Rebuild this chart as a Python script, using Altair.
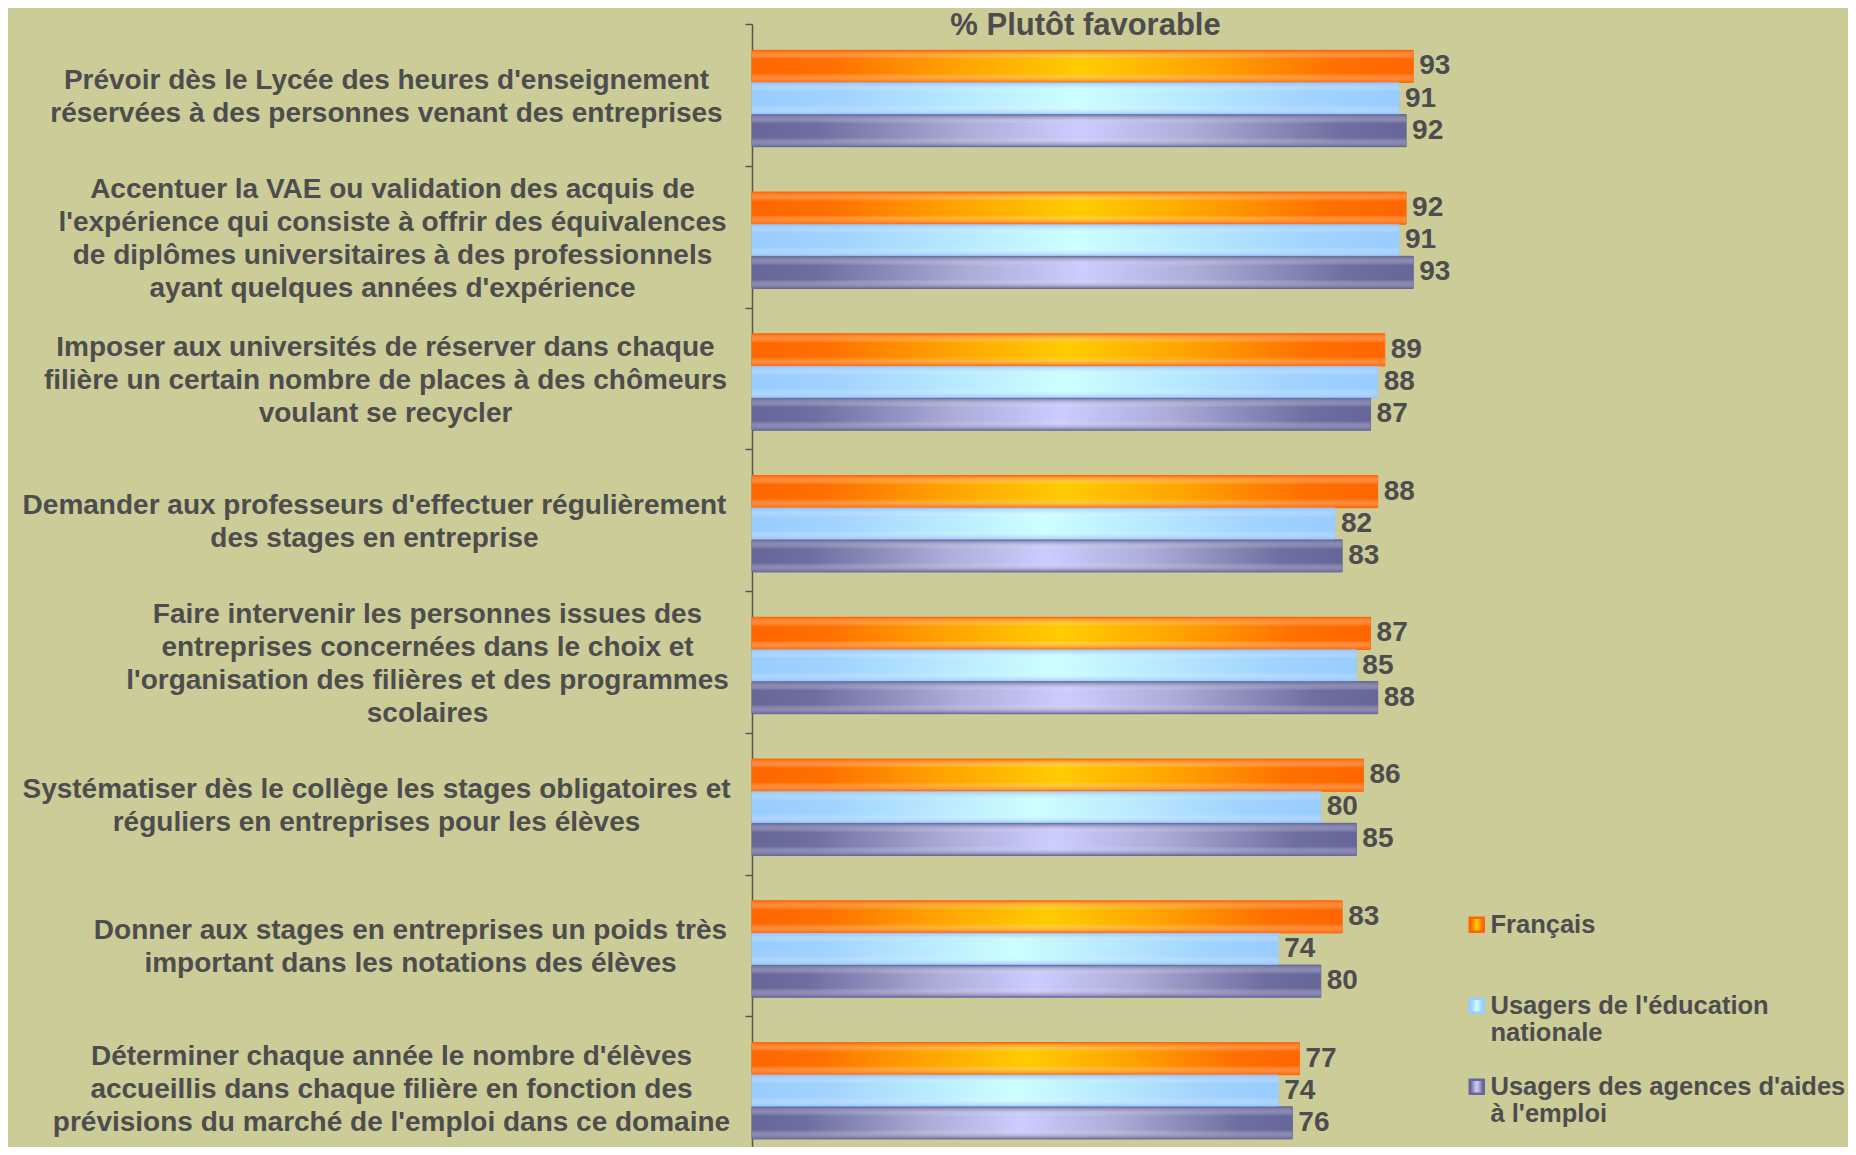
import altair as alt
import pandas as pd

categories = [
    "Prévoir dès le Lycée des heures d'enseignement|réservées à des personnes venant des entreprises",
    "Accentuer la VAE ou validation des acquis de|l'expérience qui consiste à offrir des équivalences|de diplômes universitaires à des professionnels|ayant quelques années d'expérience",
    "Imposer aux universités de réserver dans chaque|filière un certain nombre de places à des chômeurs|voulant se recycler",
    "Demander aux professeurs d'effectuer régulièrement|des stages en entreprise",
    "Faire intervenir les personnes issues des|entreprises concernées dans le choix et|l'organisation des filières et des programmes|scolaires",
    "Systématiser dès le collège les stages obligatoires et|réguliers en entreprises pour les élèves",
    "Donner aux stages en entreprises un poids très|important dans les notations des élèves",
    "Déterminer chaque année le nombre d'élèves|accueillis dans chaque filière en fonction des|prévisions du marché de l'emploi dans ce domaine",
]
series = ["Français", "Usagers de l'éducation|nationale", "Usagers des agences d'aides|à l'emploi"]
francais = [93, 92, 89, 88, 87, 86, 83, 77]
education = [91, 91, 88, 82, 85, 80, 74, 74]
agences = [92, 93, 87, 83, 88, 85, 80, 76]

rows = []
for i, c in enumerate(categories):
    for s, vals in zip(series, [francais, education, agences]):
        rows.append({"cat": c, "series": s, "value": vals[i]})
df = pd.DataFrame(rows)

FONT = "Liberation Sans, Arial, sans-serif"
TXT = "#4d4d4d"
edge = ["#ff6600", "#99ccff", "#666699"]
LH = 33

# distance from the axis to the centre of each (right-aligned, centred) label block
label_pad = [359, 353, 360, 371, 318, 369, 335, 354]

h_stops = [
    [(0, "#ff6600"), (0.12, "#ff7000"), (0.3, "#ffa000"), (0.5, "#ffcc00"), (0.7, "#ffa000"), (0.88, "#ff7000"), (1, "#ff6600")],
    [(0, "#99ccff"), (0.15, "#a3d4ff"), (0.5, "#ccffff"), (0.85, "#a3d4ff"), (1, "#99ccff")],
    [(0, "#666699"), (0.1, "#6e6ea0"), (0.33, "#adadd9"), (0.5, "#ccccff"), (0.67, "#adadd9"), (0.9, "#6e6ea0"), (1, "#666699")],
]
v_edge = ["rgba(255,102,0,0.9)", "rgba(140,190,250,0.8)", "rgba(102,102,153,0.9)"]


def grad_expr(stops):
    s = ", ".join("{offset: %s, color: '%s'}" % (o, c) for o, c in stops)
    return "{gradient: 'linear', x1: 0, y1: 0, x2: 1, y2: 0, stops: [%s]}" % s


def esc(s):
    return s.replace("\\", "\\\\").replace("'", "\\'")


label_offset = {
    "condition": [
        {"test": "length(split(datum.value, '|')) == 4", "value": -1.5 * LH + 2},
        {"test": "length(split(datum.value, '|')) == 3", "value": -1.0 * LH + 2},
        {"test": "length(split(datum.value, '|')) == 2", "value": -0.5 * LH + 2},
    ],
    "value": 2,
}
label_padding = {
    "condition": [
        {"test": "datum.value == '%s'" % esc(c), "value": p}
        for c, p in zip(categories, label_pad)
    ],
    "value": 359,
}

x_enc = alt.X("value:Q", scale=alt.Scale(domain=[0, 100]), axis=None)
y_enc = alt.Y(
    "cat:N",
    sort=categories,
    scale=alt.Scale(domain=categories, paddingInner=0, paddingOuter=0),
    axis=alt.Axis(
        title=None,
        labelExpr="split(datum.label, '|')",
        labelAlign="center",
        labelPadding=label_padding,
        labelOffset=label_offset,
        labelFont=FONT,
        labelFontSize=28,
        labelFontWeight="bold",
        labelColor=TXT,
        labelLineHeight=LH,
        labelLimit=1000,
        tickBand="extent",
        tickSize=7,
        tickColor="#555555",
        tickWidth=1.5,
        domainColor="#555555",
        domainWidth=1.5,
    ),
)
yoff_enc = alt.YOffset(
    "series:N", sort=series,
    scale=alt.Scale(domain=series, paddingInner=0, paddingOuter=0.706, align=0.58),
)

bars = alt.Chart(df).mark_bar(strokeWidth=1).encode(
    x=x_enc,
    y=y_enc,
    yOffset=yoff_enc,
    fill=alt.Fill(
        "series:N",
        scale=alt.Scale(domain=series, range=[alt.ExprRef(expr=grad_expr(s)) for s in h_stops]),
        legend=alt.Legend(
            title=None,
            orient="none",
            legendX=712,
            legendY=888,
            labelExpr="split(datum.label + (indexof(datum.label, '|') < 0 ? '|' : ''), '|')",
            labelFont=FONT,
            labelFontSize=25.5,
            labelFontWeight="bold",
            labelColor=TXT,
            labelLimit=600,
            labelOffset=1,
            symbolType="square",
            symbolSize=196,
            symbolStrokeWidth=2.5,
            rowPadding=27,
        ),
    ),
    stroke=alt.Stroke("series:N", scale=alt.Scale(domain=series, range=edge)),
)

layers = [bars]
for s, ve in zip(series, v_edge):
    vg = alt.Gradient(
        gradient="linear", x1=0, y1=0, x2=0, y2=1,
        stops=[
            alt.GradientStop(offset=0, color=ve),
            alt.GradientStop(offset=0.28, color="rgba(255,255,255,0)"),
            alt.GradientStop(offset=0.72, color="rgba(255,255,255,0)"),
            alt.GradientStop(offset=1, color=ve),
        ],
    )
    layers.append(
        alt.Chart(df).transform_filter(alt.datum.series == s)
        .mark_bar(fill=vg, strokeWidth=0)
        .encode(x=x_enc, y=y_enc, yOffset=yoff_enc)
    )

labels = alt.Chart(df).mark_text(
    align="left", baseline="middle", dx=6, font=FONT, fontSize=28, fontWeight="bold", color=TXT
).encode(x=x_enc, y=y_enc, yOffset=yoff_enc, text="value:Q")
layers.append(labels)

chart = alt.layer(*layers).properties(
    width=711,
    height=1134,
    title=alt.Title(
        "% Plutôt favorable", font=FONT, fontSize=31, fontWeight="bold", color=TXT,
        anchor="middle", dx=-22, dy=22, offset=-10,
    ),
    autosize=alt.AutoSizeParams(type="none"),
    padding={"left": 744, "top": 16, "right": 385, "bottom": -11},
).configure(background="#cccc99").configure_view(stroke=None)

chart.save("out.html", embed_options={"renderer": "svg", "actions": False})
